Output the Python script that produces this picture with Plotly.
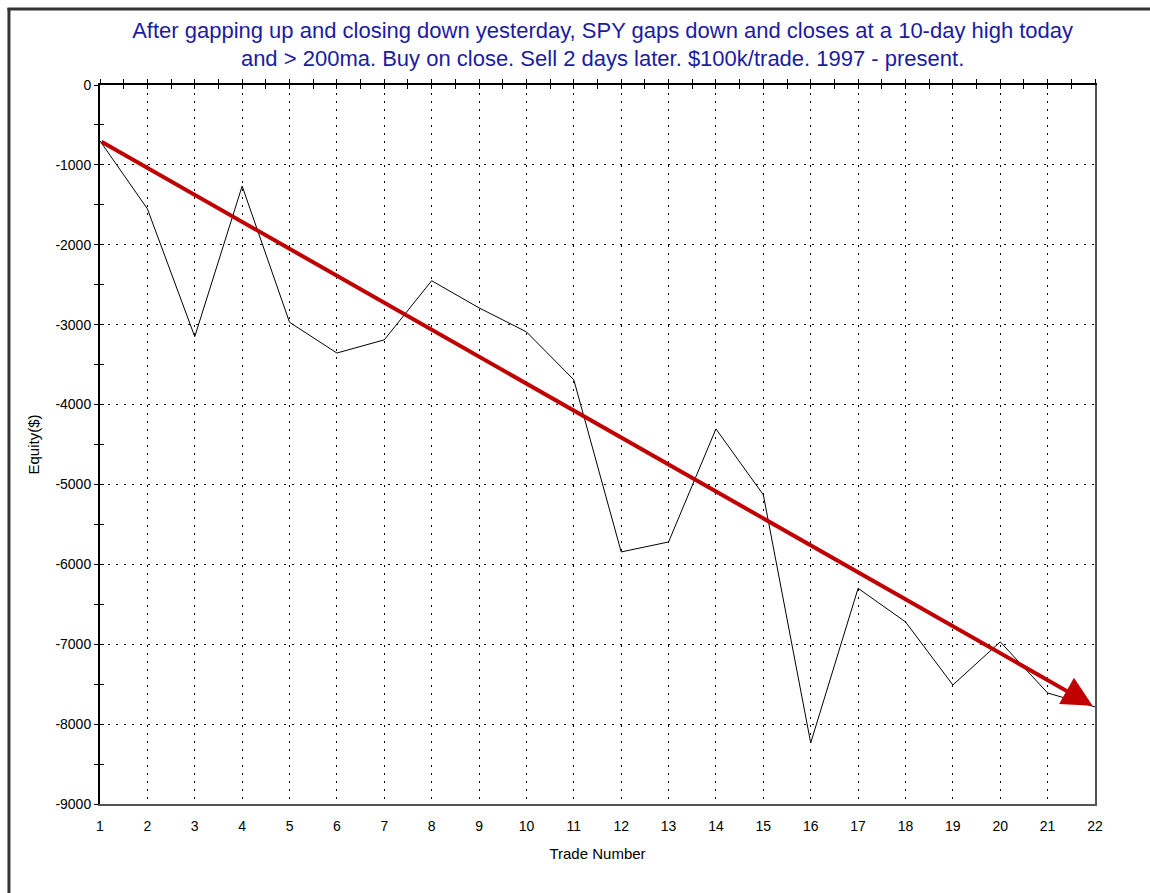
import plotly.graph_objects as go

# ---- data ----
trade_number = list(range(1, 23))
equity = [-700, -1550, -3150, -1265, -2970, -3355, -3190, -2450, -2790, -3090,
          -3690, -5845, -5720, -4305, -5130, -8235, -6300, -6720, -7510, -6970,
          -7610, -7785]
trend_start = (1, -700)
trend_end = (21.95, -7770)

y_tick_values = [0, -1000, -2000, -3000, -4000, -5000, -6000, -7000, -8000, -9000]
y_tick_labels = ["0", "-1000", "-2000", "-3000", "-4000", "-5000", "-6000", "-7000", "-8000", "-9000"]

title_text = ("After gapping up and closing down yesterday, SPY gaps down and closes at a 10-day high today"
              "<br>and &gt; 200ma. Buy on close. Sell 2 days later. $100k/trade. 1997 - present.")

FONT = "Liberation Sans, Arial, sans-serif"
XR = [1, 22]
YR = [-9000, 0]

fig = go.Figure()
fig.add_trace(go.Scatter(x=trade_number, y=equity, mode="lines",
                         line=dict(color="black", width=1), showlegend=False,
                         hoverinfo="x+y"))
# invisible helpers so the extra axes are drawn
fig.add_trace(go.Scatter(x=[XR[0]], y=[YR[0]], xaxis="x2", yaxis="y2", mode="markers",
                         marker=dict(opacity=0), showlegend=False, hoverinfo="skip"))
fig.add_trace(go.Scatter(x=[XR[0]], y=[YR[0]], xaxis="x3", yaxis="y3", mode="markers",
                         marker=dict(opacity=0), showlegend=False, hoverinfo="skip"))

fig.add_annotation(x=trend_end[0], y=trend_end[1], ax=trend_start[0], ay=trend_start[1],
                   xref="x", yref="y", axref="x", ayref="y", text="",
                   showarrow=True, arrowhead=2, arrowsize=1.5, arrowwidth=4,
                   arrowcolor="#c00000", standoff=0, startstandoff=0)

grid_dash = "1.5px,6.5px"
fig.update_layout(
    width=1150, height=893,
    paper_bgcolor="white", plot_bgcolor="white",
    margin=dict(l=100, r=55, t=85, b=89, autoexpand=False),
    font=dict(family=FONT, size=14, color="black"),
    title=dict(text=title_text, x=0.524, xanchor="center", y=0.958, yanchor="top",
               font=dict(family=FONT, size=22, color="#1c1ca0")),
    xaxis=dict(range=XR, dtick=1, tick0=1, showgrid=True, gridcolor="black", gridwidth=1,
               griddash=grid_dash, ticks="", showline=True, linecolor="#555555", linewidth=2,
               zeroline=False, tickfont=dict(size=14, color="black"), ticklabelstandoff=8,
               title=dict(text="Trade Number", font=dict(size=15), standoff=16)),
    yaxis=dict(range=YR, tickvals=y_tick_values, ticktext=y_tick_labels,
               showgrid=True, gridcolor="black", gridwidth=1,
               griddash=grid_dash, ticks="outside", ticklen=4, tickwidth=1, tickcolor="black",
               minor=dict(dtick=500, tick0=0, ticks="outside", ticklen=4, tickcolor="black",
                          showgrid=False),
               showline=True, linecolor="black", linewidth=2, zeroline=False,
               tickfont=dict(size=14, color="black"),
               title=dict(text="Equity($)", font=dict(size=15), standoff=12)),
    xaxis2=dict(overlaying="x", side="top", anchor="y", range=XR, dtick=0.5, tick0=1,
                ticks="outside", ticklen=4, tickcolor="black", showticklabels=False,
                showgrid=False, zeroline=False, showline=True, linecolor="black", linewidth=2),
    xaxis3=dict(overlaying="x", side="top", anchor="y", range=XR, dtick=0.5, tick0=1,
                ticks="inside", ticklen=4, tickcolor="black", showticklabels=False,
                showgrid=False, zeroline=False, showline=False),
    yaxis2=dict(overlaying="y", side="left", anchor="x", range=YR, dtick=500, tick0=0,
                ticks="inside", ticklen=4, tickcolor="black", showticklabels=False,
                showgrid=False, zeroline=False, showline=False),
    yaxis3=dict(overlaying="y", side="right", anchor="x", range=YR, ticks="",
                showticklabels=False, showgrid=False, zeroline=False,
                showline=True, linecolor="#555555", linewidth=2),
    shapes=[
        dict(type="line", xref="paper", yref="paper", x0=-0.0915, x1=-0.0915, y0=1.107, y1=-0.13,
             line=dict(color="#333333", width=3)),
        dict(type="line", xref="paper", yref="paper", x0=-0.093, x1=1.06, y0=1.1057, y1=1.1057,
             line=dict(color="#333333", width=3)),
    ],
)

fig.write_html("out.html", config={"displayModeBar": False},
               post_script="document.body.style.margin='0px';document.body.style.padding='0px';")
